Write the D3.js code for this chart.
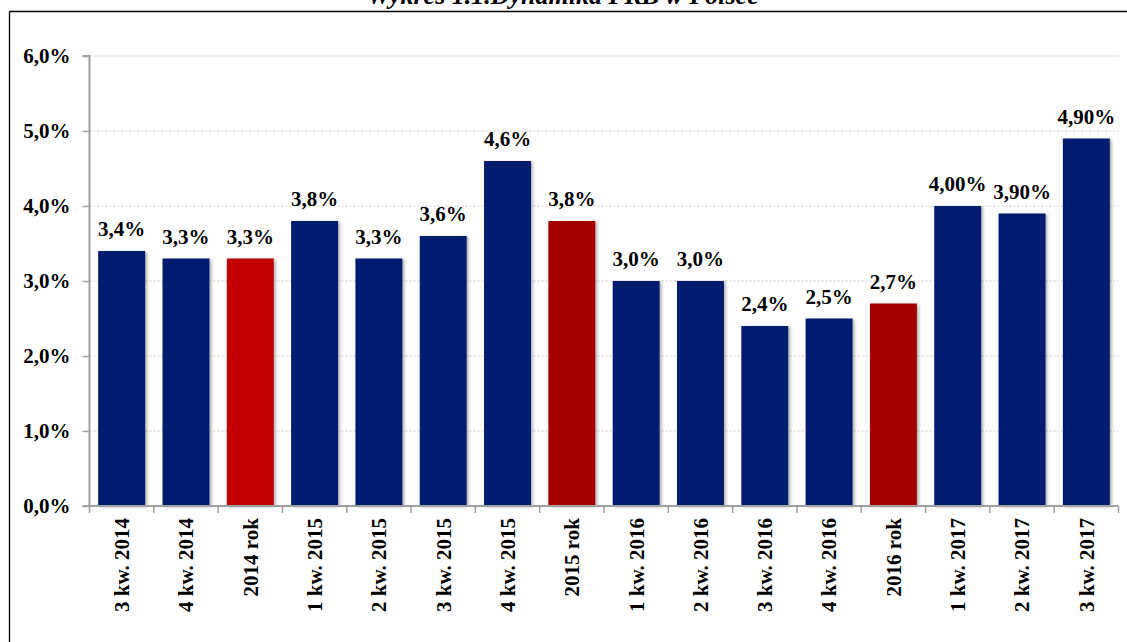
<!DOCTYPE html>
<html><head><meta charset="utf-8">
<script src="https://cdn.jsdelivr.net/npm/d3@7"></script>
<style>body{margin:0;background:#fff;} svg{display:block;}</style>
</head><body>
<svg id="c" width="1127" height="642"></svg>
<script>
const categories = ["3 kw. 2014","4 kw. 2014","2014 rok","1 kw. 2015","2 kw. 2015","3 kw. 2015","4 kw. 2015","2015 rok","1 kw. 2016","2 kw. 2016","3 kw. 2016","4 kw. 2016","2016 rok","1 kw. 2017","2 kw. 2017","3 kw. 2017"];
const values = [3.4,3.3,3.3,3.8,3.3,3.6,4.6,3.8,3.0,3.0,2.4,2.5,2.7,4.0,3.9,4.9];
const labels = ["3,4%","3,3%","3,3%","3,8%","3,3%","3,6%","4,6%","3,8%","3,0%","3,0%","2,4%","2,5%","2,7%","4,00%","3,90%","4,90%"];
const barColors = ["#001A70","#001A70","#C00000","#001A70","#001A70","#001A70","#001A70","#A50000","#001A70","#001A70","#001A70","#001A70","#A50000","#001A70","#001A70","#001A70"];
const yTicks = [0,1,2,3,4,5,6];
const yTickLabels = ["0,0%","1,0%","2,0%","3,0%","4,0%","5,0%","6,0%"];
const title = "Wykres 1.1.Dynamika PKB w Polsce";

const svg = d3.select("#c");
const font = "'Liberation Serif','Times New Roman',serif";
const mLeft = 89.5, mRight = 1118.5, mTop = 56, mBottom = 506;

const defs = svg.append("defs");
const f = defs.append("filter").attr("id","sh").attr("x","-20%").attr("y","-20%").attr("width","150%").attr("height","150%");
f.append("feDropShadow").attr("dx",2).attr("dy",1).attr("stdDeviation",1.5).attr("flood-color","#000").attr("flood-opacity",0.3);

// border
svg.append("line").attr("x1",9.5).attr("x2",1127).attr("y1",11.5).attr("y2",11.5).attr("stroke","#000").attr("stroke-width",1.3);
svg.append("line").attr("x1",9.5).attr("x2",9.5).attr("y1",11.5).attr("y2",642).attr("stroke","#000").attr("stroke-width",1.3);

svg.append("text").attr("x",563).attr("y",4).attr("text-anchor","middle")
  .attr("font-family",font).attr("font-weight","bold").attr("font-style","italic").attr("font-size",26).text(title);

const x = d3.scaleBand().domain(categories).range([mLeft,mRight]).paddingInner(0.27).paddingOuter(0.135);
const y = d3.scaleLinear().domain([0,6]).range([mBottom,mTop]);

// grid
svg.append("g").selectAll("line").data(yTicks.filter(d=>d>0)).join("line")
  .attr("x1",mLeft).attr("x2",mRight).attr("y1",d=>y(d)).attr("y2",d=>y(d))
  .attr("stroke","#c8c8c8").attr("stroke-width",1).attr("stroke-dasharray","2,2");

// bars
svg.append("g").selectAll("rect").data(values).join("rect")
  .attr("x",(d,i)=>x(categories[i])).attr("width",x.bandwidth())
  .attr("y",d=>y(d)).attr("height",d=>y(0)-y(d))
  .attr("fill",(d,i)=>barColors[i]).attr("filter","url(#sh)");

// value labels
svg.append("g").selectAll("text").data(values).join("text")
  .attr("x",(d,i)=>x(categories[i])+x.bandwidth()/2).attr("y",d=>y(d)-15)
  .attr("text-anchor","middle").attr("font-family",font).attr("font-weight","bold").attr("font-size",21)
  .attr("fill","#000").text((d,i)=>labels[i]);

// y axis
const yAxis = d3.axisLeft(y).tickValues(yTicks).tickFormat((d,i)=>yTickLabels[i]).tickSize(7).tickPadding(12);
const gy = svg.append("g").attr("transform",`translate(${mLeft},0)`).call(yAxis);
gy.select(".domain").attr("stroke","#a0a0a0").attr("stroke-width",2).attr("d",`M-7,${mTop}H0V${mBottom}H-7`);
gy.selectAll(".tick line").attr("stroke","#a0a0a0").attr("stroke-width",1.5);
gy.selectAll(".tick text").attr("font-family",font).attr("font-weight","bold").attr("font-size",21).attr("fill","#000");

// x axis
const xAxis = d3.axisBottom(x).tickSize(0).tickFormat(d=>d);
const gx = svg.append("g").attr("transform",`translate(0,${mBottom})`).call(xAxis);
gx.select(".domain").attr("stroke","#a0a0a0").attr("stroke-width",2).attr("d",`M${mLeft},0H${mRight}`);
const edges = categories.map(c=>x(c)-x.step()*x.paddingInner()/2).concat([mRight]);
gx.append("g").selectAll("line").data(edges).join("line")
  .attr("x1",d=>d).attr("x2",d=>d).attr("y1",0).attr("y2",7).attr("stroke","#a0a0a0").attr("stroke-width",1.5);
gx.selectAll(".tick text").attr("font-family",font).attr("font-weight","bold").attr("font-size",21).attr("fill","#000")
  .attr("transform","rotate(-90)").attr("text-anchor","end").attr("x",-12).attr("y",0).attr("dy","0.35em");
</script>
</body></html>
